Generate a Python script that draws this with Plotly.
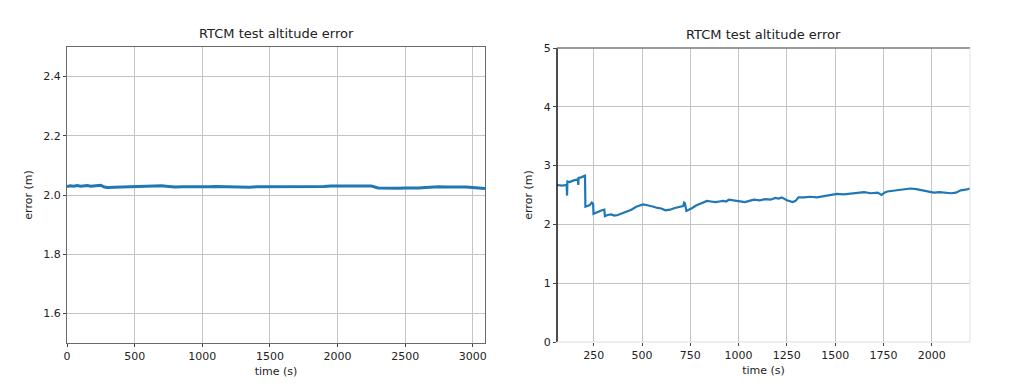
import plotly.graph_objects as go

# ---- data: left panel ----
t_left = [0, 25, 50, 75, 100, 125, 150, 175, 200, 225, 250, 275, 300, 350, 400, 450, 500,
          550, 600, 650, 700, 750, 800, 850, 900, 950, 1000, 1050, 1100, 1150, 1200, 1250,
          1300, 1350, 1400, 1450, 1500, 1550, 1600, 1650, 1700, 1750, 1800, 1850, 1900,
          1950, 2000, 2050, 2100, 2150, 2200, 2250, 2300, 2350, 2400, 2450, 2500, 2550,
          2600, 2650, 2700, 2750, 2800, 2850, 2900, 2950, 3000, 3050, 3090]
err_left = [2.029, 2.031, 2.030, 2.032, 2.030, 2.031, 2.032, 2.030, 2.031, 2.034, 2.033,
            2.027, 2.025, 2.026, 2.027, 2.026, 2.027, 2.028, 2.029, 2.030, 2.031, 2.029,
            2.027, 2.028, 2.028, 2.026, 2.027, 2.028, 2.029, 2.028, 2.029, 2.028, 2.027,
            2.026, 2.028, 2.028, 2.027, 2.027, 2.028, 2.028, 2.029, 2.028, 2.028, 2.029,
            2.029, 2.030, 2.030, 2.029, 2.030, 2.030, 2.030, 2.030, 2.024, 2.023, 2.024,
            2.023, 2.024, 2.023, 2.024, 2.025, 2.027, 2.028, 2.027, 2.028, 2.027, 2.027,
            2.026, 2.023, 2.022]

# ---- data: right panel ----
t_right = [60, 85, 110, 112, 114, 125, 140, 155, 168, 170, 172, 185, 195, 205, 207, 218,
           230, 240, 247, 249, 262, 280, 292, 305, 308, 322, 340, 357, 375, 398, 420, 445,
           470, 488, 505, 522, 540, 560, 580, 600, 621, 645, 670, 692, 713, 718, 722, 730,
           745, 760, 780, 800, 818, 836, 858, 880, 900, 920, 935, 950, 990, 1033, 1055, 1080,
           1110, 1137, 1165, 1190, 1207, 1223, 1250, 1265, 1280, 1295, 1310, 1340, 1370,
           1405, 1440, 1475, 1510, 1545, 1580, 1615, 1650, 1685, 1720, 1740, 1755, 1770,
           1795, 1820, 1855, 1890, 1920, 1950, 1980, 2010, 2040, 2070, 2100, 2125, 2150,
           2175, 2198]
err_right = [2.67, 2.66, 2.67, 2.49, 2.73, 2.72, 2.74, 2.75, 2.77, 2.67, 2.79, 2.80, 2.81,
             2.83, 2.30, 2.32, 2.33, 2.37, 2.35, 2.18, 2.20, 2.22, 2.24, 2.25, 2.14, 2.16,
             2.17, 2.15, 2.16, 2.19, 2.22, 2.25, 2.30, 2.32, 2.34, 2.33, 2.32, 2.30, 2.28,
             2.27, 2.24, 2.25, 2.28, 2.29, 2.31, 2.37, 2.36, 2.23, 2.25, 2.28, 2.32, 2.35,
             2.38, 2.40, 2.39, 2.38, 2.39, 2.40, 2.39, 2.42, 2.40, 2.38, 2.40, 2.42, 2.41,
             2.43, 2.42, 2.45, 2.44, 2.46, 2.41, 2.40, 2.38, 2.40, 2.46, 2.46, 2.47, 2.46,
             2.48, 2.50, 2.52, 2.51, 2.52, 2.54, 2.55, 2.53, 2.54, 2.50, 2.54, 2.56, 2.57,
             2.58, 2.59, 2.61, 2.60, 2.58, 2.56, 2.54, 2.55, 2.54, 2.53, 2.54, 2.58, 2.59,
             2.61]

title_text = "RTCM test altitude error"
x_label = "time (s)"
y_label = "error (m)"
left_yticks = [1.6, 1.8, 2.0, 2.2, 2.4]
left_xticks = [0, 500, 1000, 1500, 2000, 2500, 3000]
right_yticks = [0, 1, 2, 3, 4, 5]
right_xticks = [250, 500, 750, 1000, 1250, 1500, 1750, 2000]

# page body has an 8px margin, so the figure is 16px smaller than the window
W, H = 1008, 370
OFF = 8
blue = "#1f77b4"
txt = "#222222"
font = "DejaVu Sans"

def dom_x(a, b):
    return [(a - OFF) / W, (b - OFF) / W]

def dom_y(top, bottom):
    return [(H - (bottom - OFF)) / H, (H - (top - OFF)) / H]

fig = go.Figure()
fig.add_trace(go.Scatter(x=t_left, y=err_left, mode="lines",
                         line=dict(color=blue, width=3), xaxis="x", yaxis="y",
                         showlegend=False))
fig.add_trace(go.Scatter(x=t_right, y=err_right, mode="lines",
                         line=dict(color=blue, width=2.2), xaxis="x2", yaxis="y2",
                         showlegend=False))

base_axis = dict(showgrid=True, gridcolor="#c4c4c4", gridwidth=1, ticks="outside",
                 ticklen=3, tickcolor="#444444", zeroline=False, automargin=False,
                 tickfont=dict(family=font, size=11, color=txt))

ldx = dom_x(67, 485)
ldy = dom_y(47, 343)
rdx = dom_x(557, 970)
rdy = dom_y(48, 342)

title_font = dict(size=11, family=font, color=txt)

fig.update_layout(
    width=W, height=H, margin=dict(l=0, r=0, t=0, b=0, autoexpand=False),
    paper_bgcolor="white", plot_bgcolor="white",
    font=dict(family=font, color=txt),
    xaxis=dict(domain=ldx, range=[0, 3090], tickvals=left_xticks, anchor="y",
               showline=True, linecolor="#6a6a6a", linewidth=1, mirror=True,
               title=dict(text=x_label, font=title_font, standoff=5), **base_axis),
    yaxis=dict(domain=ldy, range=[1.5, 2.5], tickvals=left_yticks, tickformat=".1f",
               anchor="x", showline=True, linecolor="#6a6a6a", linewidth=1, mirror=True,
               title=dict(text=y_label, font=title_font, standoff=8), **base_axis),
    xaxis2=dict(domain=rdx, range=[60, 2198], tickvals=right_xticks, anchor="y2",
                showline=False,
                title=dict(text=x_label, font=title_font, standoff=5), **base_axis),
    yaxis2=dict(domain=rdy, range=[0, 5], tickvals=right_yticks, anchor="x2",
                showline=False,
                title=dict(text=y_label, font=title_font, standoff=8), **base_axis),
    shapes=[
        dict(type="line", xref="paper", yref="paper", x0=rdx[0], x1=rdx[0], y0=rdy[0], y1=rdy[1],
             line=dict(color="#111111", width=1.5)),
        dict(type="line", xref="paper", yref="paper", x0=rdx[0], x1=rdx[1], y0=rdy[1], y1=rdy[1],
             line=dict(color="#777777", width=1.5)),
        dict(type="line", xref="paper", yref="paper", x0=rdx[1], x1=rdx[1], y0=rdy[0], y1=rdy[1],
             line=dict(color="#e2e2e2", width=1)),
        dict(type="line", xref="paper", yref="paper", x0=rdx[0], x1=rdx[1], y0=rdy[0], y1=rdy[0],
             line=dict(color="#dddddd", width=1)),
    ],
    annotations=[
        dict(text=title_text, x=(ldx[0] + ldx[1]) / 2, y=ldy[1], xref="paper", yref="paper",
             xanchor="center", yanchor="bottom", yshift=4, showarrow=False,
             font=dict(family=font, size=13, color=txt)),
        dict(text=title_text, x=(rdx[0] + rdx[1]) / 2, y=rdy[1], xref="paper", yref="paper",
             xanchor="center", yanchor="bottom", yshift=4, showarrow=False,
             font=dict(family=font, size=13, color=txt)),
    ],
)

fig.write_html("out.html")
